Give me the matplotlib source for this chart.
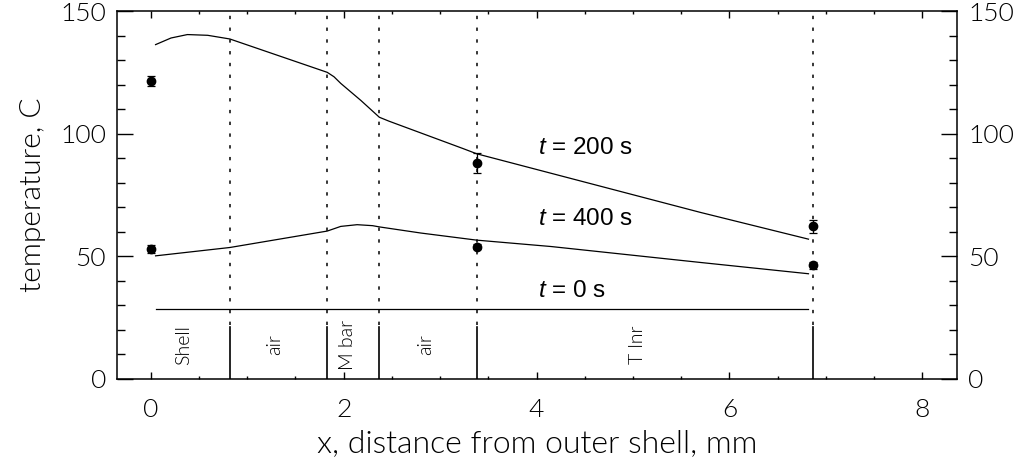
import matplotlib
matplotlib.use("Agg")
import matplotlib.pyplot as plt
from matplotlib import font_manager as fm
from matplotlib.ticker import MultipleLocator

# pick a thin (weight 300) font for the axis text, IDL look
thin = None
thin_w = 'normal'
for fam in ['Lato', 'Roboto', 'Open Sans', 'Inter', 'Noto Sans', 'DejaVu Sans']:
    ws = [f.weight for f in fm.fontManager.ttflist
          if f.name == fam and f.style == 'normal' and isinstance(f.weight, int)]
    if 300 in ws:
        thin, thin_w = fam, 300
        break
if thin is None:
    thin = 'DejaVu Sans'

plt.rcParams['font.family'] = thin
plt.rcParams['font.weight'] = thin_w
plt.rcParams['axes.labelweight'] = thin_w
plt.rcParams['mathtext.fontset'] = 'custom'
plt.rcParams['mathtext.it'] = 'Liberation Sans:italic'
plt.rcParams['mathtext.rm'] = 'Liberation Sans'

# ---- data ----
t200_x = [0.05, 0.21, 0.38, 0.59, 0.82, 1.83, 1.90, 1.97, 2.18, 2.37, 2.47, 3.24, 3.38, 5.70, 6.82]
t200_y = [136.3, 139.0, 140.4, 140.1, 138.6, 125.0, 123.2, 120.5, 113.5, 106.7, 105.1, 93.9, 91.8, 67.9, 57.0]

t400_x = [0.05, 0.82, 1.83, 1.97, 2.14, 2.30, 2.37, 2.80, 3.38, 4.15, 5.70, 6.82]
t400_y = [50.2, 53.6, 60.3, 62.2, 62.9, 62.5, 62.0, 59.5, 56.6, 54.0, 47.5, 42.9]

t0_x = [0.05, 6.82]
t0_y = [28.6, 28.6]

meas_x = [0.0, 3.38, 6.87]
meas200 = [121.4, 88.0, 62.2]
err200 = [2.0, 4.0, 2.5]
meas400 = [53.0, 54.0, 46.3]
err400 = [1.5, 1.0, 1.5]

bounds = [0.82, 1.83, 2.37, 3.38, 6.87]
regions = ['Shell', 'air', 'M bar', 'air', 'T lnr']
region_x = [0.34, 1.28, 2.04, 2.85, 5.05]

curve_labels = ['200', '400', '0']
curve_label_y = [94.3, 65.3, 36.0]

fig = plt.figure(figsize=(10.21, 4.57), dpi=100)
ax = fig.add_axes([0.1146, 0.1707, 0.8227, 0.8052])

ax.plot(t200_x, t200_y, color='black', lw=0.9)
ax.plot(t400_x, t400_y, color='black', lw=0.9)
ax.plot(t0_x, t0_y, color='black', lw=0.9)

for xb in bounds:
    ax.plot([xb, xb], [22, 150], color='black', lw=1.1, dashes=(2.2, 5.5))
    ax.plot([xb, xb], [0, 21], color='black', lw=1.2)

ax.errorbar(meas_x, meas200, yerr=err200, fmt='o', color='black', ms=6, capsize=3, elinewidth=0.9, capthick=0.9)
ax.errorbar(meas_x, meas400, yerr=err400, fmt='o', color='black', ms=6, capsize=3, elinewidth=0.9, capthick=0.9)

for name, xr in zip(regions, region_x):
    ax.text(xr, 14, name, rotation=90, ha='center', va='center', fontsize=14)

for lab, yl in zip(curve_labels, curve_label_y):
    ax.text(4.02, yl, r'$t$ = ' + lab + ' s', ha='left', va='center', fontsize=17.5,
            family='Liberation Sans', fontweight='normal')

ax.set_xlim(-0.35, 8.36)
ax.set_ylim(0, 150)
ax.xaxis.set_major_locator(MultipleLocator(2))
ax.xaxis.set_minor_locator(MultipleLocator(0.5))
ax.yaxis.set_major_locator(MultipleLocator(50))
ax.yaxis.set_minor_locator(MultipleLocator(10))

ax.tick_params(axis='both', which='both', direction='in', top=True, right=True,
               labelright=True, width=1.0, labelsize=19)
ax.tick_params(axis='y', which='major', length=11.5, pad=8)
ax.tick_params(axis='y', which='minor', length=5.8)
ax.tick_params(axis='x', which='major', length=5, pad=14)
ax.tick_params(axis='x', which='minor', length=2.5)
for s in ax.spines.values():
    s.set_linewidth(1.1)

ax.set_xlabel('x, distance from outer shell, mm', fontsize=23, labelpad=5)
ax.set_ylabel('temperature, C', fontsize=21.5, labelpad=10)

fig.savefig('out.png', dpi=100)
